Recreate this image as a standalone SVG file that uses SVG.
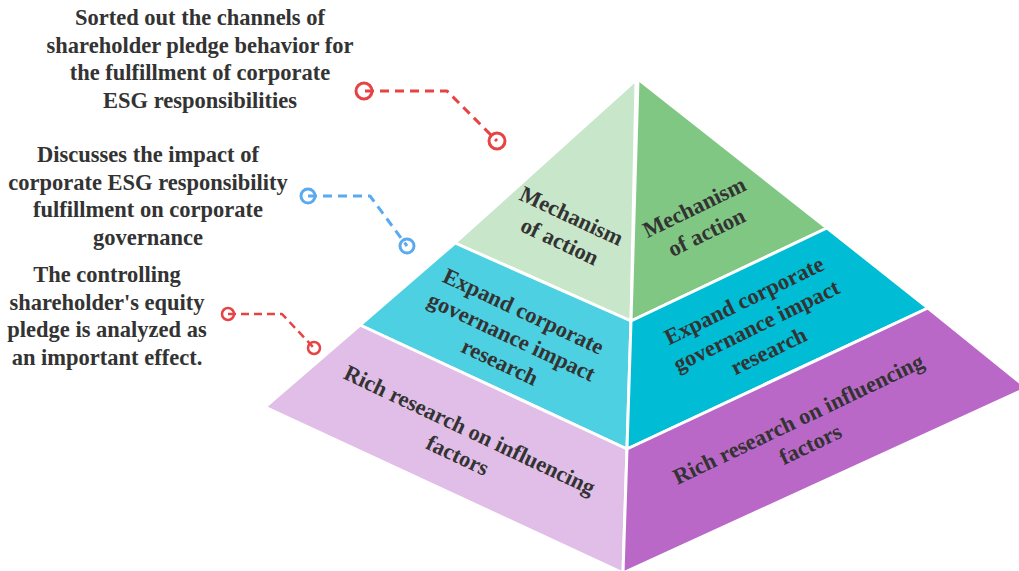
<svg xmlns="http://www.w3.org/2000/svg" width="1019" height="571" viewBox="0 0 1019 571">
  <defs>
    <style>
      .face { stroke: #ffffff; stroke-width: 3; stroke-linejoin: round; }
      .lbl { font-family: "Liberation Serif", "Times New Roman", serif; font-weight: bold; font-size: 22.5px; fill: #333333; text-anchor: middle; }
      .side { font-family: "Liberation Serif", "Times New Roman", serif; font-weight: bold; font-size: 22.5px; fill: #333333; text-anchor: middle; }
      .conn { fill: none; stroke-width: 3; stroke-dasharray: 9 6; stroke-linejoin: round; }
      .ring { fill: none; stroke-width: 3; }
    </style>
  </defs>
  <rect width="1019" height="571" fill="#ffffff"/>

  <g id="pyramid">
    <g id="left-top"><polygon class="face" fill="#c8e6c9" points="636,80 455,243 631,321"/></g>
    <g id="left-middle"><polygon class="face" fill="#4dd0e1" points="455,243 360,325 627,449 631,321"/></g>
    <g id="left-bottom"><polygon class="face" fill="#e1bee7" points="360,325 265,407 623,573 627,449"/></g>
    <g id="right-top"><polygon class="face" fill="#81c784" points="638,79 631,321 827,228"/></g>
    <g id="right-middle"><polygon class="face" fill="#00bcd4" points="631,321 627,449 928,308 827,228"/></g>
    <g id="right-bottom"><polygon class="face" fill="#ba68c8" points="627,449 623,573 1027,388 928,308"/></g>
  </g>

  <g id="pyramid-labels">
    <g id="label-left-top" transform="translate(565,230) rotate(25)">
      <text class="lbl" x="0" y="-8">Mechanism</text>
      <text class="lbl" x="0" y="20">of action</text>
    </g>
    <g id="label-right-top" transform="translate(701,221) rotate(-26)">
      <text class="lbl" x="0" y="-8">Mechanism</text>
      <text class="lbl" x="0" y="20">of action</text>
    </g>
    <g id="label-left-middle" transform="translate(511,338) rotate(25)">
      <text class="lbl" x="0" y="-22">Expand corporate</text>
      <text class="lbl" x="0" y="6">governance impact</text>
      <text class="lbl" x="0" y="34">research</text>
    </g>
    <g id="label-right-middle" transform="translate(757,327) rotate(-26)">
      <text class="lbl" x="0" y="-22">Expand corporate</text>
      <text class="lbl" x="0" y="6">governance impact</text>
      <text class="lbl" x="0" y="34">research</text>
    </g>
    <g id="label-left-bottom" transform="translate(463,444) rotate(25.3)">
      <text class="lbl" x="0" y="-8">Rich research on influencing</text>
      <text class="lbl" x="0" y="20">factors</text>
    </g>
    <g id="label-right-bottom" transform="translate(805,433) rotate(-25.5)">
      <text class="lbl" x="0" y="-8">Rich research on influencing</text>
      <text class="lbl" x="0" y="20">factors</text>
    </g>
  </g>

  <g id="side-notes">
    <g id="note-1">
      <text class="side" x="200" y="25">Sorted out the channels of</text>
      <text class="side" x="200" y="52.5">shareholder pledge behavior for</text>
      <text class="side" x="200" y="80">the fulfillment of corporate</text>
      <text class="side" x="200" y="107.5">ESG responsibilities</text>
    </g>
    <g id="note-2">
      <text class="side" x="148" y="162">Discusses the impact of</text>
      <text class="side" x="148" y="189.5">corporate ESG responsibility</text>
      <text class="side" x="148" y="217">fulfillment on corporate</text>
      <text class="side" x="148" y="244.5">governance</text>
    </g>
    <g id="note-3">
      <text class="side" x="107" y="282">The controlling</text>
      <text class="side" x="107" y="309.5">shareholder's equity</text>
      <text class="side" x="107" y="337">pledge is analyzed as</text>
      <text class="side" x="107" y="364.5">an important effect.</text>
    </g>
  </g>

  <g id="connectors">
    <g id="connector-1" stroke="#e84343">
      <path class="conn" d="M365,91 H447 L497,141"/>
      <circle class="ring" cx="364" cy="91" r="8"/>
      <circle class="ring" cx="497" cy="141" r="8"/>
    </g>
    <g id="connector-2" stroke="#5aaaf2">
      <path class="conn" d="M308,196 H370 L407,246"/>
      <circle class="ring" cx="308" cy="196" r="7"/>
      <circle class="ring" cx="407" cy="246" r="7"/>
    </g>
    <g id="connector-3" stroke="#e84343">
      <path class="conn" style="stroke-width:2.5;stroke-dasharray:8 5" d="M228,314 H282 L314,348"/>
      <circle class="ring" style="stroke-width:2.5" cx="228" cy="314" r="6"/>
      <circle class="ring" style="stroke-width:2.5" cx="314" cy="348" r="6"/>
    </g>
  </g>
</svg>
